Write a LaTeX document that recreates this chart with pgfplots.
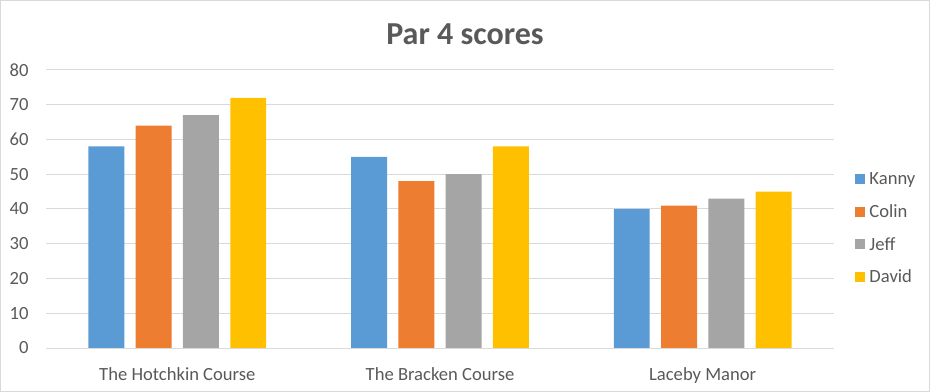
\documentclass[border=0pt]{standalone}
\usepackage{pgfplots}
\pgfplotsset{compat=1.18}
\usepackage{fontspec}
\setmainfont{Carlito}
\definecolor{cK}{HTML}{5B9BD5}
\definecolor{cC}{HTML}{ED7D31}
\definecolor{cJ}{HTML}{A5A5A5}
\definecolor{cD}{HTML}{FFC000}
\definecolor{txt}{HTML}{595959}
\definecolor{gridc}{HTML}{D9D9D9}
\begin{document}
\begin{tikzpicture}
\path[use as bounding box] (0,0) rectangle (930bp,392bp);
\draw[gridc, line width=1bp] (0.5bp,0.5bp) rectangle (929.5bp,391.5bp);
\node[txt, font=\fontsize{32bp}{36bp}\selectfont\bfseries] at (465bp,358bp) {Par 4 scores};
\begin{axis}[
  at={(46bp,44bp)}, anchor=south west,
  scale only axis, width=788bp, height=278bp,
  ymin=0, ymax=80, ytick={0,10,...,80},
  xmin=-0.5, xmax=2.5,
  xtick={0,1,2},
  xticklabels={The Hotchkin Course, The Bracken Course, Laceby Manor},
  ybar, bar width=0.137,
  xmajorgrids=false,
  ymajorgrids=true, grid style={draw=gridc, line width=1bp},
  axis x line*=bottom,
  x axis line style={draw=gridc, line width=1bp, -},
  axis y line*=left,
  y axis line style={draw=none},
  major tick length=0pt,
  xtick style={draw=none}, ytick style={draw=none},
  ticklabel style={txt, font=\fontsize{18.6bp}{22bp}\selectfont},
  yticklabel style={xshift=-14bp},
  xticklabel style={yshift=-16bp},
  /pgf/number format/assume math mode=true,
  legend style={at={(1.027,0.43)}, anchor=west, draw=none, fill=none,
    font=\fontsize{18.6bp}{22bp}\selectfont, text=txt,
    row sep=14.5bp, inner sep=0pt, cells={anchor=west},
    /tikz/every odd column/.style={column sep=2bp}},
  legend image code/.code={\fill[#1] (0bp,-5bp) rectangle (10bp,5bp);},
  legend cell align=left,
]
\addplot[fill=cK, draw=none, bar shift=-0.27] coordinates {(0,58) (1,55) (2,40)};
\addplot[fill=cC, draw=none, bar shift=-0.09] coordinates {(0,64) (1,48) (2,41)};
\addplot[fill=cJ, draw=none, bar shift=0.09] coordinates {(0,67) (1,50) (2,43)};
\addplot[fill=cD, draw=none, bar shift=0.27] coordinates {(0,72) (1,58) (2,45)};
\legend{Kanny, Colin, Jeff, David}
\end{axis}
\end{tikzpicture}
\end{document}
